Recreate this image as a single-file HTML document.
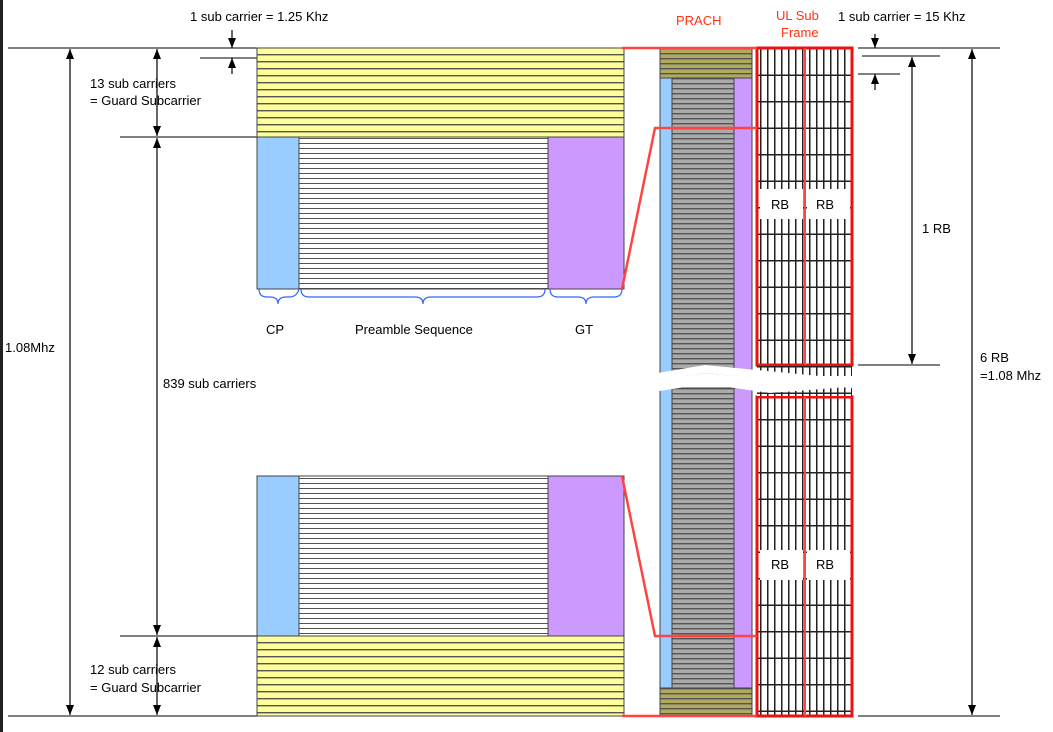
<!DOCTYPE html>
<html><head><meta charset="utf-8"><style>
html,body{margin:0;padding:0;background:#fff;}
svg{display:block;font-family:"Liberation Sans",sans-serif;font-size:13px;}
</style></head><body>
<svg width="1053" height="732" viewBox="0 0 1053 732">
<defs>
<pattern id="yl" width="10" height="7" patternUnits="userSpaceOnUse"><rect width="10" height="7" fill="#ffff99"/><rect y="5" width="10" height="1.4" fill="#555"/></pattern>
<pattern id="wl" width="10" height="5" patternUnits="userSpaceOnUse"><rect width="10" height="5" fill="#fff"/><rect y="3" width="10" height="1" fill="#555"/></pattern>
<pattern id="gl" width="10" height="5" patternUnits="userSpaceOnUse"><rect width="10" height="5" fill="#aaa"/><rect y="3" width="10" height="1.4" fill="#555"/></pattern>
<pattern id="ol" width="10" height="5" patternUnits="userSpaceOnUse"><rect width="10" height="5" fill="#b0aa60"/><rect y="3" width="10" height="1.4" fill="#555"/></pattern>
<pattern id="vg" width="7" height="26.5" patternUnits="userSpaceOnUse" x="757" y="48"><rect width="7" height="26.5" fill="#fff"/><rect x="3" width="1.5" height="26.5" fill="#222"/><rect y="0" width="7" height="1.5" fill="#222"/></pattern>
<marker id="ar" markerWidth="10" markerHeight="8" refX="10" refY="4" orient="auto-start-reverse" markerUnits="userSpaceOnUse"><path d="M0,0 L10,4 L0,8 Z" fill="#000"/></marker>
</defs>
<rect x="0" y="0" width="3" height="732" fill="#222"/>
<g stroke="#000" stroke-width="1">
<line x1="8" y1="48" x2="622" y2="48"/><line x1="8" y1="716" x2="622" y2="716"/>
<line x1="200" y1="58" x2="257" y2="58"/>
<line x1="120" y1="137" x2="257" y2="137"/><line x1="120" y1="636" x2="257" y2="636"/>
<line x1="858" y1="48" x2="1000" y2="48"/><line x1="858" y1="716" x2="1000" y2="716"/>
<line x1="862" y1="56" x2="940" y2="56"/><line x1="858" y1="365" x2="940" y2="365"/>
</g>
<g stroke="#000" stroke-width="1.2">
<line x1="70" y1="49" x2="70" y2="715" marker-start="url(#ar)" marker-end="url(#ar)"/>
<line x1="157" y1="49" x2="157" y2="136" marker-start="url(#ar)" marker-end="url(#ar)"/>
<line x1="157" y1="138" x2="157" y2="635" marker-start="url(#ar)" marker-end="url(#ar)"/>
<line x1="157" y1="637" x2="157" y2="715" marker-start="url(#ar)" marker-end="url(#ar)"/>
<line x1="232" y1="30" x2="232" y2="48" marker-end="url(#ar)"/>
<line x1="232" y1="74" x2="232" y2="58" marker-end="url(#ar)"/>
<line x1="875" y1="34" x2="875" y2="48" marker-end="url(#ar)"/>
<line x1="875" y1="90" x2="875" y2="74" marker-end="url(#ar)"/>
<line x1="912" y1="57" x2="912" y2="364" marker-start="url(#ar)" marker-end="url(#ar)"/>
<line x1="972" y1="49" x2="972" y2="715" marker-start="url(#ar)" marker-end="url(#ar)"/>
</g>
<line x1="858" y1="74" x2="900" y2="74" stroke="#000"/>
<g stroke="#444" stroke-width="1">
<rect x="257" y="48" width="367" height="89" fill="url(#yl)"/>
<rect x="257" y="137" width="42" height="152" fill="#99ccff"/>
<rect x="299" y="137" width="249" height="152" fill="url(#wl)"/>
<rect x="548" y="137" width="76" height="152" fill="#cc99ff"/>
<rect x="257" y="476" width="42" height="160" fill="#99ccff"/>
<rect x="299" y="476" width="249" height="160" fill="url(#wl)"/>
<rect x="548" y="476" width="76" height="160" fill="#cc99ff"/>
<rect x="257" y="636" width="367" height="80" fill="url(#yl)"/>
</g>
<g fill="none" stroke="#3366ff" stroke-width="1.2">
<path d="M259,289 q0,8 8,8 h3 q8,0 8,7 q0,-7 8,-7 h3 q8,0 10,-8"/>
<path d="M301,289 q0,8 8,8 h106 q8,0 8,7 q0,-7 8,-7 h106 q8,0 8,-8"/>
<path d="M550,289 q0,8 8,8 h20 q8,0 8,7 q0,-7 8,-7 h20 q8,0 8,-8"/>
</g>
<g stroke="#444">
<rect x="660" y="48" width="92" height="30" fill="url(#ol)"/>
<rect x="660" y="78" width="12" height="300" fill="#99ccff"/>
<rect x="672" y="78" width="62" height="300" fill="url(#gl)"/>
<rect x="734" y="78" width="18" height="300" fill="#cc99ff"/>
<rect x="660" y="388" width="12" height="300" fill="#99ccff"/>
<rect x="672" y="388" width="62" height="300" fill="url(#gl)"/>
<rect x="734" y="388" width="18" height="300" fill="#cc99ff"/>
<rect x="660" y="688" width="92" height="28" fill="url(#ol)"/>
</g>
<g>
<rect x="757" y="48" width="95" height="317" fill="url(#vg)" stroke="#ee1111" stroke-width="3"/>
<rect x="757" y="397" width="95" height="319" fill="url(#vg)" stroke="#ee1111" stroke-width="3"/>
<rect x="757" y="366" width="95" height="30" fill="url(#vg)"/>
<line x1="805" y1="48" x2="805" y2="365" stroke="#ff4444" stroke-width="2"/>
<line x1="805" y1="397" x2="805" y2="716" stroke="#ff4444" stroke-width="2"/>
<rect x="760" y="189" width="43" height="30" fill="#fff"/><rect x="807" y="189" width="43" height="30" fill="#fff"/>
<rect x="760" y="550" width="43" height="30" fill="#fff"/><rect x="807" y="550" width="43" height="30" fill="#fff"/>
</g>
<path d="M640,376 L705,365 L860,380 L860,389 L705,373 L640,383 Z" fill="#fff"/>
<path d="M640,383 L705,373 L860,389 L860,378 L860,386 L770,393 L705,384 L640,394 Z" fill="#fff"/>
<rect x="640" y="376" width="220" height="10" fill="#fff"/>
<g fill="none" stroke="#ff4444" stroke-width="2.5">
<path d="M622,48 H757"/><path d="M622,289 L655,128 H757"/>
<path d="M622,476 L655,636 H757"/><path d="M622,716 H757"/>
</g>
<g fill="#000">
<text x="190" y="21">1 sub carrier = 1.25 Khz</text>
<text x="90" y="88">13 sub carriers</text><text x="90" y="105">= Guard Subcarrier</text>
<text x="5" y="352">1.08Mhz</text>
<text x="163" y="388">839 sub carriers</text>
<text x="266" y="334">CP</text><text x="355" y="334">Preamble Sequence</text><text x="575" y="334">GT</text>
<text x="90" y="674">12 sub carriers</text><text x="90" y="692">= Guard Subcarrier</text>
<text x="838" y="21">1 sub carrier = 15 Khz</text>
<text x="922" y="233">1 RB</text>
<text x="980" y="362">6 RB</text><text x="980" y="380">=1.08 Mhz</text>
<text x="771" y="209">RB</text><text x="816" y="209">RB</text>
<text x="771" y="569">RB</text><text x="816" y="569">RB</text>
</g>
<g fill="#ff3311">
<text x="676" y="25">PRACH</text>
<text x="776" y="20">UL Sub</text><text x="781" y="37">Frame</text>
</g>
</svg>
</body></html>
